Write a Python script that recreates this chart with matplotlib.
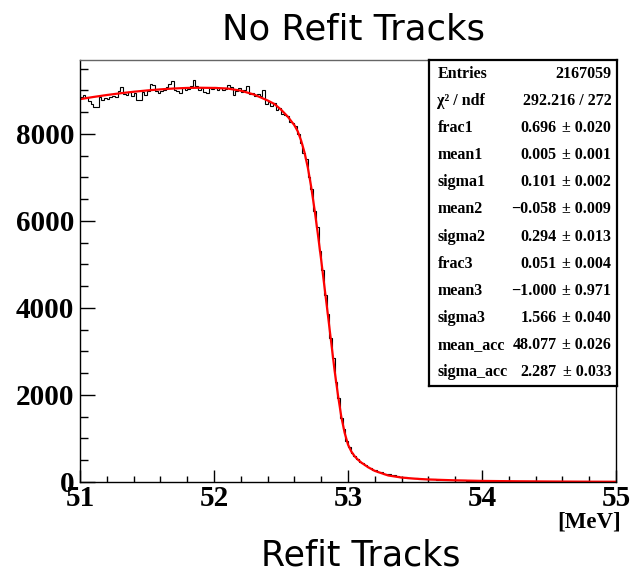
import numpy as np
import matplotlib
matplotlib.use('Agg')
import matplotlib.pyplot as plt
from matplotlib.ticker import MultipleLocator

# histogram: 200 bins of 0.02 MeV between 51 and 55
x_min, x_max, n_bins = 51.0, 55.0, 200
counts = [
    8860, 8900, 8850, 8760, 8700, 8620, 8610, 8850, 8780, 8830,
    8800, 8840, 8880, 8850, 8990, 9070, 8920, 8900, 8960, 8880,
    8950, 8790, 8770, 8960, 8900, 8990, 9150, 9120, 8990, 8940,
    8980, 9000, 9080, 9150, 9220, 9010, 8980, 8950, 9050, 9010,
    9040, 9100, 9240, 9100, 9020, 9060, 8960, 8940, 9060, 9030,
    9080, 9010, 9060, 9000, 9040, 9120, 9090, 8900, 8980, 9050,
    8970, 9000, 9100, 8910, 8930, 8870, 8920, 8880, 9010, 8700,
    8740, 8650, 8710, 8560, 8600, 8470, 8430, 8420, 8270, 8250,
    8190, 8010, 7800, 7560, 7420, 7000, 6740, 6230, 5860, 5300,
    4880, 4300, 3860, 3300, 2840, 2300, 1930, 1480, 1210, 950,
    810, 670, 600, 520, 460, 430, 380, 345, 320, 280,
    270, 235, 225, 190, 180, 175, 150, 150, 130, 120,
    118, 110, 103, 96, 92, 85, 80, 77, 72, 69,
    65, 62, 60, 56, 54, 51, 49, 46, 44, 42,
    40, 39, 37, 35, 34, 32, 31, 29, 28, 27,
    26, 25, 23, 23, 22, 21, 20, 19, 18, 17,
    17, 16, 15, 15, 14, 14, 13, 13, 12, 12,
    11, 11, 10, 10, 10, 9, 9, 9, 8, 8,
    8, 8, 7, 7, 7, 7, 6, 6, 6, 6,
    6, 5, 5, 5, 5, 5, 5, 4, 4, 4,
]

# fit curve
fit_x = [51.0, 51.1, 51.2, 51.3, 51.4, 51.5, 51.6, 51.7, 51.8, 51.9,
         52.0, 52.1, 52.2, 52.3, 52.4, 52.45, 52.5, 52.55, 52.6, 52.625,
         52.65, 52.675, 52.7, 52.725, 52.75, 52.775, 52.8, 52.825, 52.85, 52.875,
         52.9, 52.925, 52.95, 52.975, 53.0, 53.025, 53.05, 53.075, 53.1, 53.15,
         53.2, 53.3, 53.4, 53.5, 53.6, 53.8, 54.0, 54.25, 54.5, 54.75, 55.0]
fit_y = [8800, 8850, 8895, 8935, 8970, 9000, 9025, 9045, 9058, 9062,
         9058, 9045, 8995, 8905, 8770, 8690, 8560, 8400, 8200, 8060,
         7850, 7580, 7230, 6790, 6270, 5700, 5100, 4470, 3840, 3200,
         2560, 2000, 1500, 1130, 860, 700, 590, 510, 445, 340,
         255, 150, 102, 76, 58, 38, 25, 17, 12, 8, 6]

x_ticks = [51, 52, 53, 54, 55]
y_ticks = [0, 2000, 4000, 6000, 8000]

stat_names = ['Entries', 'χ² / ndf', 'frac1', 'mean1', 'sigma1', 'mean2',
              'sigma2', 'frac3', 'mean3', 'sigma3', 'mean_acc', 'sigma_acc']
stat_values = ['2167059', '292.216 / 272', '0.696', '0.005', '0.101', '\u22120.058',
               '0.294', '0.051', '\u22121.000', '1.566', '48.077', '2.287']
stat_errors = [None, None, '0.020', '0.001', '0.002', '0.009',
               '0.013', '0.004', '0.971', '0.040', '0.026', '0.033']

W, H = 639, 571
fig = plt.figure(figsize=(W / 100, H / 100), dpi=100)
ax = fig.add_axes([80 / W, 1 - 482 / H, 536 / W, 422 / H])

edges = np.linspace(x_min, x_max, n_bins + 1)
ax.stairs(counts, edges, color='black', linewidth=0.8, baseline=None)
ax.plot(fit_x, fit_y, color='red', linewidth=1.6)

ax.set_xlim(x_min, x_max)
ax.set_ylim(0, 9700)
ax.set_xticks(x_ticks)
ax.set_yticks(y_ticks)
ax.xaxis.set_minor_locator(MultipleLocator(0.2))
ax.yaxis.set_minor_locator(MultipleLocator(500))

serif_bold = dict(family='Liberation Serif', weight='bold')
ax.set_xticklabels([str(t) for t in x_ticks], fontsize=21, **serif_bold)
ax.set_yticklabels([str(t) for t in y_ticks], fontsize=21, **serif_bold)
ax.tick_params(axis='x', which='major', direction='in', length=9, width=1, pad=2)
ax.tick_params(axis='x', which='minor', direction='in', length=4.5, width=1)
ax.tick_params(axis='y', which='major', direction='in', length=11, width=1, pad=4)
ax.tick_params(axis='y', which='minor', direction='in', length=5.5, width=1)
ax.tick_params(top=False, right=False, which='both')
for s in ax.spines.values():
    s.set_linewidth(1)
ax.spines['top'].set_color('#666666')

fig.text(621 / W, 1 - 522 / H, '[MeV]', ha='right', va='center', fontsize=16.5, **serif_bold)
fig.text(354 / W, 1 - 40 / H, 'No Refit Tracks', ha='center', va='baseline',
         fontsize=25.5, family='DejaVu Sans')
fig.text(361 / W, 1 - 565 / H, 'Refit Tracks', ha='center', va='baseline',
         fontsize=25, family='DejaVu Sans')

# stats box
box = fig.add_axes([429 / W, 1 - 386 / H, 188 / W, 326 / H])
box.set_xticks([])
box.set_yticks([])
box.set_xlim(0, 1)
box.set_ylim(0, 1)
for s in box.spines.values():
    s.set_linewidth(1.6)
n_rows = len(stat_names)
fs = 11.5
for i, name in enumerate(stat_names):
    yy = 1 - (i + 0.5) / n_rows
    box.text(0.045, yy, name, ha='left', va='center', fontsize=fs, **serif_bold)
    if stat_errors[i] is None:
        box.text(0.97, yy, stat_values[i], ha='right', va='center', fontsize=fs, **serif_bold)
    else:
        box.text(0.68, yy, stat_values[i], ha='right', va='center', fontsize=fs, **serif_bold)
        box.text(0.97, yy, '\u00b1 ' + stat_errors[i], ha='right', va='center',
                 fontsize=fs, **serif_bold)

fig.savefig('out.png', dpi=100, facecolor='white')
